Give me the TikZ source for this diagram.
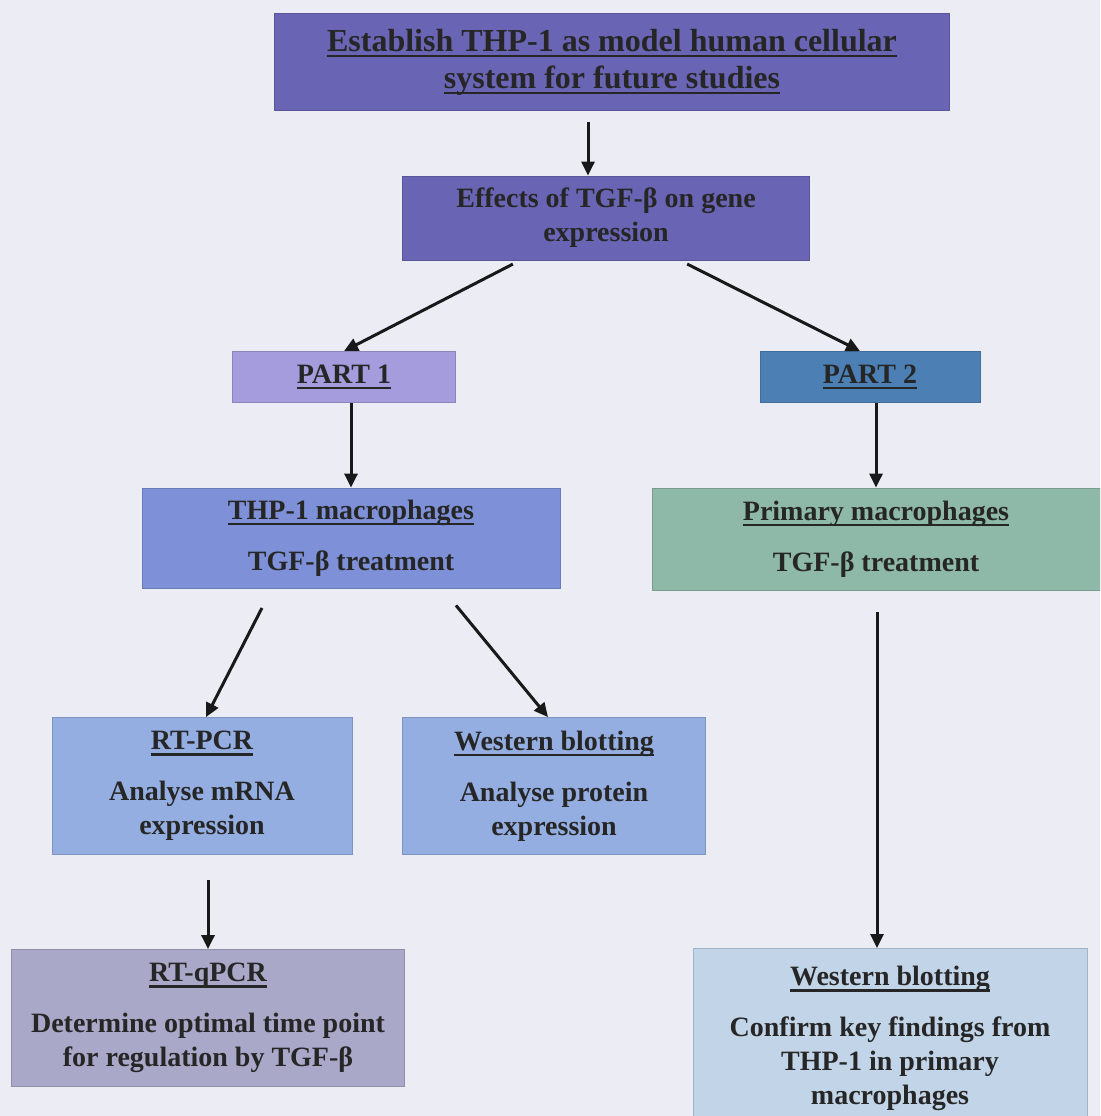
\documentclass[tikz,border=0pt]{standalone}
\usepackage{fontspec}
\setmainfont{Liberation Serif}
\usetikzlibrary{arrows.meta, positioning}
\definecolor{pagebg}{HTML}{ECECF5}
\definecolor{inkgray}{HTML}{262626}
\definecolor{topblue}{HTML}{6964B3}
\definecolor{partone}{HTML}{A49CDC}
\definecolor{parttwo}{HTML}{4C80B4}
\definecolor{thpblue}{HTML}{7D90D8}
\definecolor{primgreen}{HTML}{8EB8A7}
\definecolor{assayblue}{HTML}{94AEE2}
\definecolor{qpcrgray}{HTML}{AAA8C9}
\definecolor{confblue}{HTML}{C2D4E8}
\newsavebox{\ulbox}
\newcommand{\uline}[1]{\leavevmode\sbox{\ulbox}{#1}\rlap{\vrule height -3.5pt depth 6pt width \wd\ulbox}\usebox{\ulbox}}

\begin{document}
\begin{tikzpicture}[
    x=1pt, y=-1pt,
    % Estilo de las cajas
    box/.style={
        draw=#1!85!black, fill=#1, line width=0.8pt,
        align=center, inner sep=0pt, text=inkgray,
        font=\fontsize{28}{34}\selectfont\bfseries
    },
    % Estilo de las flechas
    arrow/.style={
        -{Triangle[length=14pt, width=13pt]}, line width=3pt, color=black!90
    }
]

    % Fondo de la página
    \useasboundingbox (0,0) rectangle (1100,1116);
    \fill[pagebg] (0,0) rectangle (1100,1116);
    \clip (0,0) rectangle (1100,1116);

    % 1. Objetivo general
    \node[box=topblue, minimum width=675, minimum height=97, font=\fontsize{32}{37}\selectfont\bfseries] (top) at (612,62)
        {\uline{Establish THP-1 as model human cellular}\\\uline{system for future studies}};
    \node[box=topblue, minimum width=407, minimum height=84] (effects) at (606,218)
        {Effects of TGF-β on gene\\expression};

    % 2. Partes
    \node[box=partone, minimum width=223, minimum height=51] (partA) at (344,377) {\uline{PART 1}};
    \node[box=parttwo, minimum width=220, minimum height=51] (partB) at (870,377) {\uline{PART 2}};

    % 3. Tratamiento
    \node[box=thpblue, minimum width=418, minimum height=100] (thpmac) at (351,538)
        {\uline{THP-1 macrophages}\\[17pt]TGF-β treatment};
    \node[box=primgreen, minimum width=448, minimum height=102] (primmac) at (876,539)
        {\uline{Primary macrophages}\\[17pt]TGF-β treatment};

    % 4. Análisis
    \node[box=assayblue, minimum width=300, minimum height=137] (rtpcr) at (202,786)
        {\uline{RT-PCR}\\[17pt]Analyse mRNA\\expression};
    \node[box=assayblue, minimum width=303, minimum height=137] (wblot) at (554,786)
        {\uline{Western blotting}\\[17pt]Analyse protein\\expression};
    \node[box=qpcrgray, minimum width=393, minimum height=137] (rtqpcr) at (208,1018)
        {\uline{RT-qPCR}\\[17pt]Determine optimal time point\\for regulation by TGF-β};
    \node[box=confblue, minimum width=394, inner ysep=18pt, anchor=north] (wblotprim) at (890,948)
        {\uline{Western blotting}\\[17pt]Confirm key findings from\\THP-1 in primary\\macrophages};

    % 5. Conectores
    \draw[arrow, shorten <=11pt] ([xshift=-24]top.south) -- ([xshift=-18]effects.north);
    \draw[arrow, shorten <=8pt] ([xshift=-86]effects.south) -- (partA.north);
    \draw[arrow, shorten <=8pt] ([xshift=74]effects.south) -- ([xshift=-10]partB.north);
    \draw[arrow] (partA.south -| thpmac.north) -- (thpmac.north);
    \draw[arrow] (partB.south -| primmac.north) -- (primmac.north);
    \draw[arrow, shorten <=22pt] ([xshift=-79]thpmac.south) -- ([xshift=4]rtpcr.north);
    \draw[arrow, shorten <=22pt] ([xshift=91]thpmac.south) -- ([xshift=-6]wblot.north);
    \draw[arrow, shorten <=25pt] (rtpcr.south -| rtqpcr.north) -- (rtqpcr.north);
    \draw[arrow, shorten <=22pt] ([xshift=1]primmac.south) -- ([xshift=-13]wblotprim.north);

\end{tikzpicture}
\end{document}
